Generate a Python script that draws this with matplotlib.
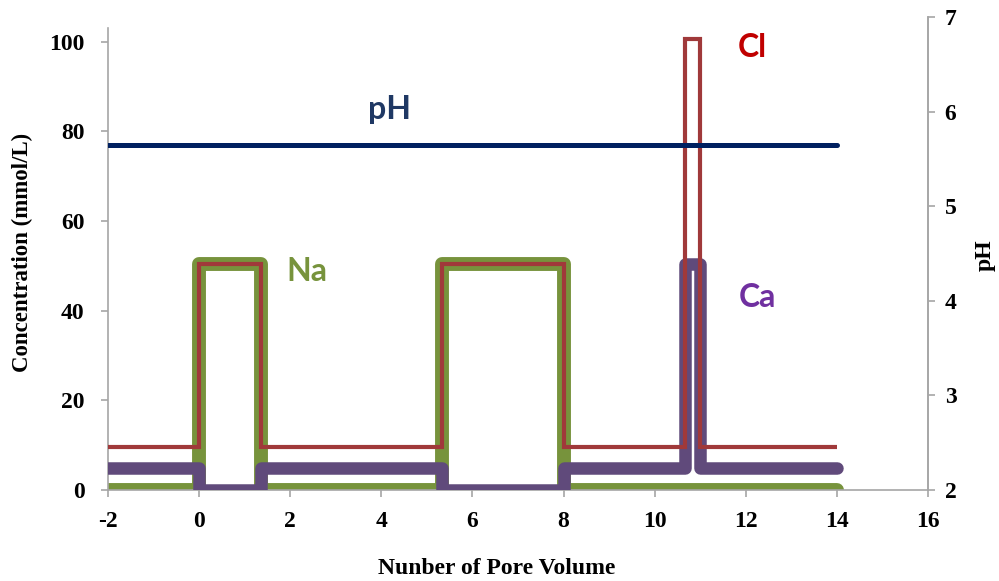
import matplotlib
matplotlib.use("Agg")
import matplotlib.pyplot as plt

plt.rcParams["axes.unicode_minus"] = False

# ---- data ----
pore_volume = [-2, 0, 1.35, 5.33, 8.02, 10.67, 11.0, 14]
na_conc = [0, 50.5, 0, 50.5, 0, 0, 0, 0]
cl_conc = [9.5, 50.5, 9.5, 50.5, 9.5, 100.5, 9.5, 9.5]
ca_conc = [5, 0, 5, 0, 5, 50.5, 5, 5]
ph_x = [-2, 14]
ph_values = [5.65, 5.65]

x_ticks = [-2, 0, 2, 4, 6, 8, 10, 12, 14, 16]
y_ticks = [0, 20, 40, 60, 80, 100]
ph_ticks = [2, 3, 4, 5, 6, 7]

W, H = 999, 581
fig = plt.figure(figsize=(W / 100, H / 100), dpi=100)
ax = fig.add_axes([108 / W, 1 - 490 / H, (928 - 108) / W, (490 - 17) / H])

serif = dict(family="Liberation Serif", fontweight="bold")
grey = "#A6A6A6"

ax.plot(pore_volume, na_conc, drawstyle="steps-post", color="#77933C", lw=10,
        solid_capstyle="round", solid_joinstyle="round", zorder=2)
ax.plot(pore_volume, ca_conc, drawstyle="steps-post", color="#604A7B", lw=9,
        solid_capstyle="round", solid_joinstyle="round", zorder=3)
ax.plot(pore_volume, cl_conc, drawstyle="steps-post", color="#A0393A", lw=3,
        solid_capstyle="butt", solid_joinstyle="miter", zorder=4)

ax.set_xlim(-2, 16)
ax.set_ylim(0, 105.5)
ax.set_xticks(x_ticks)
ax.set_yticks(y_ticks)

ax2 = ax.twinx()
ax2.plot(ph_x, ph_values, color="#002060", lw=3.6, solid_capstyle="round")
ax2.set_ylim(2, 7)
ax2.set_yticks(ph_ticks)

for a in (ax, ax2):
    a.spines["top"].set_visible(False)
    for s in a.spines.values():
        s.set_color(grey)
        s.set_linewidth(1.2)
    a.tick_params(colors=grey, length=5, width=1.2, direction="out")
    for lab in a.get_xticklabels() + a.get_yticklabels():
        lab.set_fontfamily("Liberation Serif")
        lab.set_fontweight("bold")
        lab.set_fontsize(17)
        lab.set_color("black")
ax.spines["left"].set_bounds(0, 103)
ax.tick_params(axis="y", pad=12)
ax.tick_params(axis="x", pad=10)
ax2.tick_params(axis="y", pad=7)
ax2.spines["left"].set_visible(False)
ax2.spines["bottom"].set_visible(False)

# axis titles
fig.text(497 / W, 1 - 568 / H, "Nunber of Pore Volume", ha="center", va="center",
         fontsize=17, **serif)
fig.text(22 / W, 1 - 252 / H, "Concentration (mmol/L)", ha="center", va="center",
         rotation=90, fontsize=16.5, **serif)
fig.text(985 / W, 1 - 255 / H, "pH", ha="center", va="center",
         rotation=90, fontsize=17, **serif)

# in-plot labels
sans = dict(family="Lato", fontweight="bold", fontsize=23, ha="center", va="center")
ax.text(4.19, 84.8, "pH", color="#1F3864", **sans)
ax.text(12.14, 98.7, "Cl", color="#C00000", **sans)
ax.text(2.37, 48.7, "Na", color="#77933C", **sans)
ax.text(12.25, 43.0, "Ca", color="#7030A0", **sans)

fig.savefig("out.png", dpi=100)
